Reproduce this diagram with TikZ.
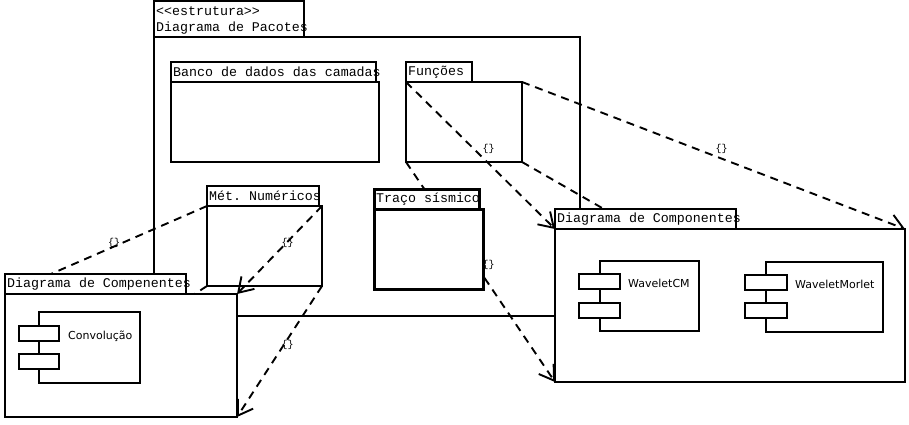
\documentclass[tikz,border=0pt]{standalone}
\usepackage{fontspec}
\setmonofont{Liberation Mono}
\newfontfamily\compfont{DejaVu Sans}
\usetikzlibrary{arrows.meta}
\tikzset{
  pkg/.style={draw, line width=1.9pt, fill=white, inner sep=0pt, outer sep=0pt, anchor=north west},
  pkgtxt/.style={anchor=west, inner sep=0pt, font=\ttfamily\fontsize{13.3}{15}\selectfont},
  dep/.style={line width=1.9pt, dash pattern=on 8pt off 6pt, -{Straight Barb[length=14pt,width=18pt,line width=1.9pt]}},
  lbl/.style={inner sep=0pt, font=\ttfamily\fontsize{10}{10}\selectfont, xshift=8pt, yshift=7pt},
  cmp/.style={draw, line width=1.7pt, fill=white, inner sep=0pt, outer sep=0pt, anchor=north west},
  cmptxt/.style={anchor=west, inner sep=0pt, font=\compfont\fontsize{11}{13}\selectfont},
}
\begin{document}
\begin{tikzpicture}[x=1pt, y=-1pt]
\useasboundingbox (0,0) rectangle (909,425);
% outer package
\node[pkg, minimum width=150pt, minimum height=36pt] (outt) at (154,1) {};
\node[pkg, minimum width=426pt, minimum height=279pt] (outb) at (154,37) {};
\node[pkgtxt] (outs) at (156,11) {<<estrutura>>};
\node[pkgtxt] (outn) at (156,28) {Diagrama de Pacotes};
% Banco
\node[pkg, minimum width=205pt, minimum height=20pt] (bant) at (171,62) {};
\node[pkg, minimum width=208pt, minimum height=80pt] (banb) at (171,82) {};
\node[pkgtxt] (bann) at (173,72) {Banco de dados das camadas};
% Funcoes
\node[pkg, minimum width=66pt, minimum height=20pt] (funt) at (406,62) {};
\node[pkg, minimum width=116pt, minimum height=80pt] (funb) at (406,82) {};
\node[pkgtxt] (funn) at (408,72) {Funções};
% Met
\node[pkg, minimum width=112pt, minimum height=20pt] (mett) at (207,186) {};
\node[pkg, minimum width=115pt, minimum height=80pt] (metb) at (207,206) {};
\node[pkgtxt] (metn) at (209,196) {Mét. Numéricos};
% corners of the target package bodies (bodies drawn later, on top)
\coordinate (lcNW) at (5,294);
\coordinate (lcNE) at (237,294);
\coordinate (lcSW) at (5,417);
\coordinate (lcSE) at (237,417);
\coordinate (rcNW) at (555,229);
\coordinate (rcNE) at (905,229);
\coordinate (rcSW) at (555,382);
\coordinate (rcSE) at (905,382);
% dependencies
\draw[dep] (funb.north west) -- node[lbl]{\{\}} (rcNW);
\draw[dep] (funb.north east) -- node[lbl]{\{\}} (rcNE);
\draw[dep] (funb.south east) -- (rcSE);
\draw[dep] (funb.south west) -- node[lbl]{\{\}} (rcSW);
\draw[dep] (metb.north west) -- node[lbl]{\{\}} (lcNW);
\draw[dep] (metb.north east) -- node[lbl]{\{\}} (lcNE);
\draw[dep] (metb.south east) -- node[lbl]{\{\}} (lcSE);
\draw[dep] (metb.south west) -- (lcSW);
% Traco sismico
\node[pkg, line width=3pt, minimum width=105pt, minimum height=20pt] (trat) at (374,189) {};
\node[pkg, line width=3pt, minimum width=109pt, minimum height=80pt] (trab) at (374,209) {};
\node[pkgtxt] (tran) at (376,199) {Traço sísmico};
% left component package
\node[pkg, minimum width=181pt, minimum height=20pt] (lct) at (5,274) {};
\node[pkg, minimum width=232pt, minimum height=123pt] (lcb) at (5,294) {};
\node[pkgtxt] (lcn) at (7,284) {Diagrama de Compenentes};
\node[cmp, minimum width=101pt, minimum height=71pt] (conv) at (39,312) {};
\node[cmp, minimum width=40pt, minimum height=15pt] (convpa) at (19,326) {};
\node[cmp, minimum width=40pt, minimum height=15pt] (convpb) at (19,354) {};
\node[cmptxt] (convt) at (68,336) {Convolução};
% right component package
\node[pkg, minimum width=181pt, minimum height=20pt] (rct) at (555,209) {};
\node[pkg, minimum width=350pt, minimum height=153pt] (rcb) at (555,229) {};
\node[pkgtxt] (rcn) at (557,219) {Diagrama de Componentes};
\node[cmp, minimum width=99pt, minimum height=70pt] (wcm) at (600,261) {};
\node[cmp, minimum width=41pt, minimum height=15pt] (wcmpa) at (579,274) {};
\node[cmp, minimum width=41pt, minimum height=15pt] (wcmpb) at (579,303) {};
\node[cmptxt] (wcmt) at (628,283) {WaveletCM};
\node[cmp, minimum width=117pt, minimum height=70pt] (wm) at (766,262) {};
\node[cmp, minimum width=42pt, minimum height=15pt] (wmpa) at (745,275) {};
\node[cmp, minimum width=42pt, minimum height=15pt] (wmpb) at (745,303) {};
\node[cmptxt] (wmt) at (795,284) {WaveletMorlet};
\end{tikzpicture}
\end{document}
